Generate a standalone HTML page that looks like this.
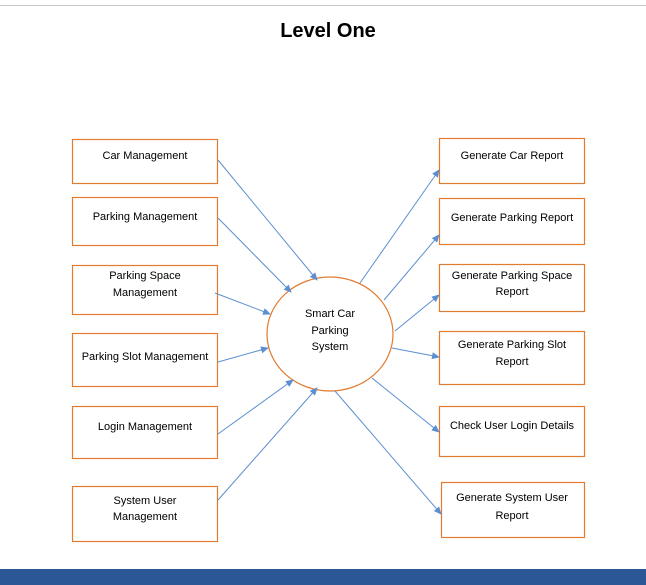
<!DOCTYPE html>
<html><head><meta charset="utf-8"><style>
html,body{margin:0;padding:0;background:#fff;width:646px;height:585px;overflow:hidden}
svg{display:block}
text{font-family:"Liberation Sans",sans-serif;font-size:11px;fill:#000}
</style></head><body>
<svg width="646" height="585" xmlns="http://www.w3.org/2000/svg">
<defs><marker id="a" markerWidth="8" markerHeight="8" refX="7" refY="4" orient="auto" markerUnits="userSpaceOnUse"><path d="M0,0.5 L8,4 L0,7.5z" fill="#5b8fd0"/></marker></defs>
<rect x="0" y="0" width="646" height="5" fill="#fff"/>
<line x1="0" y1="5.5" x2="646" y2="5.5" stroke="#c8c8c8"/>
<text x="328" y="37" text-anchor="middle" style="font-size:20px;font-weight:bold">Level One</text>
<g fill="#fff" stroke="#e07b32" stroke-width="1.2">
<rect x="72.5" y="139.5" width="145" height="44"/>
<rect x="72.5" y="197.5" width="145" height="48"/>
<rect x="72.5" y="265.5" width="145" height="49"/>
<rect x="72.5" y="333.5" width="145" height="53"/>
<rect x="72.5" y="406.5" width="145" height="52"/>
<rect x="72.5" y="486.5" width="145" height="55"/>
<rect x="439.5" y="138.5" width="145" height="45"/>
<rect x="439.5" y="198.5" width="145" height="46"/>
<rect x="439.5" y="264.5" width="145" height="47"/>
<rect x="439.5" y="331.5" width="145" height="53"/>
<rect x="439.5" y="406.5" width="145" height="50"/>
<rect x="441.5" y="482.5" width="143" height="55"/>
<ellipse cx="330" cy="334" rx="63" ry="57"/>
</g>
<g stroke="#5b8fd0" stroke-width="1" marker-end="url(#a)">
<line x1="218" y1="160" x2="317" y2="280"/>
<line x1="218" y1="218" x2="291" y2="292"/>
<line x1="215" y1="293" x2="270" y2="314"/>
<line x1="218" y1="362" x2="268" y2="348"/>
<line x1="218" y1="434" x2="293" y2="380"/>
<line x1="218" y1="500" x2="317" y2="388"/>
<line x1="360" y1="283" x2="439" y2="170"/>
<line x1="384" y1="300" x2="439" y2="235"/>
<line x1="395" y1="331" x2="439" y2="295"/>
<line x1="392" y1="348" x2="439" y2="357"/>
<line x1="372" y1="378" x2="439" y2="432"/>
<line x1="335" y1="391" x2="441" y2="514"/>
</g>
<g text-anchor="middle">
<text x="145" y="159">Car Management</text>
<text x="145" y="220">Parking Management</text>
<text x="145" y="279">Parking Space</text>
<text x="145" y="296">Management</text>
<text x="145" y="360">Parking Slot Management</text>
<text x="145" y="430">Login Management</text>
<text x="145" y="504">System User</text>
<text x="145" y="520">Management</text>
<text x="512" y="159">Generate Car Report</text>
<text x="512" y="221">Generate Parking Report</text>
<text x="512" y="279">Generate Parking Space</text>
<text x="512" y="295">Report</text>
<text x="512" y="348">Generate Parking Slot</text>
<text x="512" y="365">Report</text>
<text x="512" y="429">Check User Login Details</text>
<text x="512" y="501">Generate System User</text>
<text x="512" y="519">Report</text>
<text x="330" y="317">Smart Car</text>
<text x="330" y="334">Parking</text>
<text x="330" y="350">System</text>
</g>
<rect x="0" y="569" width="646" height="16" fill="#2b5797"/>
</svg>
</body></html>
